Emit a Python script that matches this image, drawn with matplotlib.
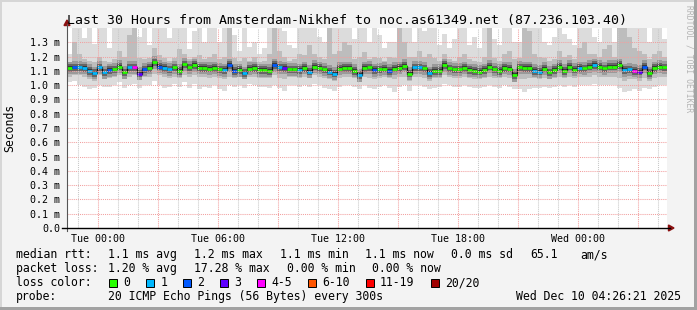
import matplotlib
matplotlib.use("Agg")
import matplotlib.pyplot as plt
from matplotlib.lines import Line2D
from matplotlib.patches import Rectangle, Polygon
from datetime import datetime, timedelta
import numpy as np

# smokeping style graph, 30 hours, 15 minute bins

start = datetime(2025, 12, 8, 22, 28)
step_hours = 0.25

median_ms = [1.12, 1.125, 1.125, 1.12, 1.10, 1.085, 1.125, 1.09, 1.105, 1.11,
             1.13, 1.09, 1.125, 1.125, 1.08, 1.11, 1.12, 1.16, 1.13, 1.12,
             1.11, 1.125, 1.10, 1.145, 1.125, 1.14, 1.12, 1.12, 1.115, 1.12,
             1.11, 1.105, 1.14, 1.10, 1.105, 1.085, 1.115, 1.12, 1.105, 1.105,
             1.10, 1.14, 1.125, 1.12, 1.11, 1.11, 1.105, 1.12, 1.095, 1.13,
             1.12, 1.11, 1.095, 1.08, 1.115, 1.12, 1.12, 1.10, 1.07, 1.12,
             1.125, 1.105, 1.11, 1.115, 1.10, 1.115, 1.12, 1.135, 1.08, 1.125,
             1.125, 1.118, 1.085, 1.10, 1.10, 1.14, 1.118, 1.11, 1.11, 1.12,
             1.105, 1.10, 1.095, 1.105, 1.13, 1.11, 1.10, 1.12, 1.115, 1.07,
             1.125, 1.12, 1.12, 1.10, 1.095, 1.115, 1.09, 1.105, 1.13, 1.10,
             1.13, 1.108, 1.12, 1.118, 1.13, 1.14, 1.13, 1.118, 1.13, 1.13,
             1.14, 1.105, 1.11, 1.10, 1.095, 1.13, 1.085, 1.12, 1.13, 1.125]

# index into loss_labels
loss_class = [0, 2, 1, 1, 1, 1, 1, 1, 2, 0,
              0, 0, 1, 4, 3, 2, 0, 0, 2, 1,
              1, 0, 0, 0, 0, 0, 0, 0, 0, 0,
              0, 1, 2, 2, 0, 1, 0, 0, 0, 0,
              0, 2, 1, 3, 0, 0, 1, 0, 1, 0,
              0, 0, 1, 1, 0, 0, 0, 0, 1, 0,
              0, 2, 0, 0, 2, 0, 0, 0, 0, 1,
              1, 0, 1, 0, 0, 0, 0, 0, 0, 0,
              0, 0, 0, 0, 0, 0, 0, 0, 0, 0,
              0, 0, 0, 1, 1, 0, 0, 0, 0, 0,
              0, 0, 1, 0, 0, 1, 0, 0, 0, 0,
              0, 1, 1, 4, 3, 2, 0, 0, 0, 0]

smoke_max = [1.22, 1.40, 1.40, 1.33, 1.40, 1.29, 1.40, 1.40, 1.26, 1.40,
             1.40, 1.40, 1.40, 1.40, 1.34, 1.40, 1.28, 1.40, 1.40, 1.40,
             1.33, 1.40, 1.40, 1.40, 1.25, 1.38, 1.40, 1.30, 1.40, 1.40,
             1.30, 1.40, 1.40, 1.35, 1.24, 1.40, 1.27, 1.30, 1.22, 1.26,
             1.40, 1.40, 1.40, 1.38, 1.28, 1.26, 1.40, 1.40, 1.40, 1.40,
             1.34, 1.30, 1.40, 1.40, 1.40, 1.40, 1.40, 1.32, 1.40, 1.40,
             1.30, 1.40, 1.35, 1.26, 1.30, 1.30, 1.40, 1.40, 1.40, 1.30,
             1.40, 1.38, 1.40, 1.40, 1.28, 1.36, 1.26, 1.32, 1.40, 1.40,
             1.28, 1.34, 1.26, 1.40, 1.40, 1.32, 1.28, 1.40, 1.40, 1.30,
             1.30, 1.40, 1.40, 1.40, 1.40, 1.30, 1.28, 1.34, 1.40, 1.36,
             1.32, 1.28, 1.40, 1.40, 1.40, 1.34, 1.30, 1.40, 1.40, 1.30,
             1.40, 1.40, 1.40, 1.40, 1.40, 1.40, 1.30, 1.40, 1.40, 1.32]

smoke_p90 = [1.16, 1.30, 1.22, 1.18, 1.17, 1.16, 1.20, 1.17, 1.16, 1.18,
             1.24, 1.20, 1.35, 1.40, 1.19, 1.18, 1.19, 1.26, 1.21, 1.19,
             1.17, 1.19, 1.25, 1.22, 1.18, 1.20, 1.21, 1.18, 1.20, 1.22,
             1.18, 1.20, 1.40, 1.19, 1.17, 1.19, 1.17, 1.20, 1.16, 1.17,
             1.22, 1.40, 1.24, 1.20, 1.17, 1.18, 1.22, 1.21, 1.28, 1.22,
             1.20, 1.18, 1.40, 1.22, 1.24, 1.30, 1.28, 1.18, 1.20, 1.23,
             1.18, 1.20, 1.19, 1.17, 1.20, 1.19, 1.40, 1.30, 1.20, 1.20,
             1.24, 1.20, 1.22, 1.19, 1.17, 1.22, 1.18, 1.17, 1.20, 1.22,
             1.18, 1.17, 1.16, 1.20, 1.40, 1.19, 1.17, 1.22, 1.24, 1.18,
             1.19, 1.40, 1.38, 1.22, 1.20, 1.19, 1.17, 1.18, 1.24, 1.20,
             1.21, 1.18, 1.26, 1.30, 1.22, 1.22, 1.20, 1.25, 1.28, 1.20,
             1.40, 1.40, 1.34, 1.26, 1.24, 1.22, 1.18, 1.22, 1.24, 1.20]

smoke_p10 = [1.06, 1.07, 1.07, 1.06, 1.04, 1.03, 1.07, 1.04, 1.05, 1.06,
             1.07, 1.05, 1.06, 1.07, 1.04, 1.06, 1.06, 1.08, 1.07, 1.06,
             1.05, 1.06, 1.05, 1.07, 1.06, 1.07, 1.06, 1.06, 1.05, 1.06,
             1.05, 1.04, 1.06, 1.05, 1.06, 1.04, 1.06, 1.06, 1.05, 1.05,
             1.05, 1.07, 1.05, 1.04, 1.06, 1.06, 1.05, 1.06, 1.05, 1.07,
             1.06, 1.05, 1.04, 1.03, 1.05, 1.06, 1.06, 1.05, 1.03, 1.06,
             1.05, 1.04, 1.05, 1.06, 1.05, 1.04, 1.06, 1.06, 1.03, 1.06,
             1.06, 1.05, 1.03, 1.05, 1.05, 1.07, 1.06, 1.05, 1.05, 1.06,
             1.05, 1.04, 1.04, 1.05, 1.06, 1.05, 1.05, 1.06, 1.05, 1.02,
             1.04, 1.04, 1.05, 1.05, 1.04, 1.05, 1.04, 1.05, 1.06, 1.05,
             1.06, 1.05, 1.06, 1.06, 1.06, 1.07, 1.06, 1.06, 1.06, 1.06,
             1.05, 1.03, 1.04, 1.04, 1.03, 1.05, 1.03, 1.05, 1.06, 1.06]

smoke_min = [1.02, 1.03, 1.00, 0.99, 0.97, 0.98, 1.00, 0.99, 0.99, 1.00,
             1.02, 0.98, 1.00, 1.01, 0.98, 1.00, 1.00, 1.03, 1.00, 0.98,
             0.99, 1.01, 0.99, 1.02, 0.98, 1.01, 0.97, 0.99, 0.98, 1.00,
             0.97, 0.96, 1.00, 0.99, 1.00, 0.98, 1.01, 1.00, 0.99, 0.99,
             0.98, 1.00, 0.98, 0.96, 1.00, 1.00, 0.99, 1.00, 0.99, 1.01,
             1.00, 0.98, 0.97, 0.96, 0.99, 1.00, 1.00, 0.99, 0.97, 1.00,
             0.98, 0.97, 0.99, 1.00, 0.98, 0.95, 0.99, 1.00, 0.96, 1.00,
             1.00, 0.99, 0.97, 0.98, 0.99, 1.01, 1.00, 0.99, 0.99, 1.00,
             0.99, 0.98, 0.98, 0.99, 1.00, 0.99, 0.98, 1.00, 0.99, 0.97,
             0.97, 0.95, 0.97, 0.98, 0.98, 0.99, 0.98, 0.99, 1.00, 0.99,
             1.00, 0.99, 1.00, 1.00, 1.00, 1.01, 1.00, 1.00, 1.00, 1.00,
             0.98, 0.95, 0.96, 0.97, 0.96, 0.98, 0.97, 0.99, 1.00, 1.00]

loss_labels = ['0', '1', '2', '3', '4-5', '6-10', '11-19', '20/20']
loss_colors = ['#26ff00', '#00b8ff', '#0059ff', '#5e00ff', '#ff00ff',
               '#ff5500', '#ff0000', '#a00000']

tick_times = [datetime(2025, 12, 9, 0), datetime(2025, 12, 9, 6),
              datetime(2025, 12, 9, 12), datetime(2025, 12, 9, 18),
              datetime(2025, 12, 10, 0)]
tick_labels = ['Tue 00:00', 'Tue 06:00', 'Tue 12:00', 'Tue 18:00', 'Wed 00:00']

y_ticks = [0.0, 0.1, 0.2, 0.3, 0.4, 0.5, 0.6, 0.7, 0.8, 0.9, 1.0, 1.1, 1.2, 1.3]
y_tick_labels = ['0.0', '0.1 m', '0.2 m', '0.3 m', '0.4 m', '0.5 m', '0.6 m',
                 '0.7 m', '0.8 m', '0.9 m', '1.0 m', '1.1 m', '1.2 m', '1.3 m']

title = "Last 30 Hours from Amsterdam-Nikhef to noc.as61349.net (87.236.103.40)"

# ------------------------------------------------------------------
W, H = 697, 310
plt.rcParams['font.family'] = 'DejaVu Sans Mono'


def fx(x):
    return x / W


def fy(y):
    return 1 - y / H


def hrs(t):
    return (t - start).total_seconds() / 3600.0


fig = plt.figure(figsize=(W / 100, H / 100), dpi=100, facecolor='#f3f3f3')
ax = fig.add_axes([fx(67), fy(228), 600 / W, 200 / H])
ax.set_facecolor('white')
ax.set_xlim(0, 30)
ax.set_ylim(0, 1.4)
for s in ax.spines.values():
    s.set_visible(False)

n = len(median_ms)
x = np.arange(n + 1) * step_hours
def edge(v):
    return np.array(list(v) + [v[-1]])

med = edge(median_ms)

# smoke
ax.fill_between(x, edge(smoke_min), edge(smoke_max), step='post',
                color='#dcdcdc', lw=0, zorder=1)
ax.fill_between(x, edge(smoke_p10), edge(smoke_p90), step='post',
                color='#bdbdbd', lw=0, zorder=2)
# darker core around the median (shading width is purely visual)
for half, col in [(0.045, '#9a9a9a'), (0.026, '#666666'), (0.012, '#3a3a3a')]:
    ax.fill_between(x, med - half, med + half, step='post', color=col,
                    lw=0, zorder=3)
ax.plot(x, med, drawstyle='steps-post', color='#111111', lw=0.9, zorder=4)

# median coloured by loss
ax.hlines(median_ms, x[:-1], x[1:], colors=[loss_colors[c] for c in loss_class],
          lw=2.0, zorder=5)

# grid on top of the data
for v in y_ticks[1:]:
    ax.axhline(v, color='#f2a0a0', lw=0.75, ls=(0, (1, 1)), zorder=6)
t = datetime(2025, 12, 8, 23)
while hrs(t) < 30:
    col = '#f2a0a0' if t.hour % 3 == 0 else '#c8c8c8'
    ax.axvline(hrs(t), color=col, lw=0.75, ls=(0, (1, 1)), zorder=6)
    t += timedelta(hours=1)

ax.set_xticks([hrs(t) for t in tick_times], tick_labels)
ax.set_yticks(y_ticks, y_tick_labels)
ax.tick_params(axis='x', length=0, pad=4.5, labelsize=7.2)
ax.tick_params(axis='y', length=0, pad=5, labelsize=7.2)

# axes lines and arrows
fig.add_artist(Line2D([fx(67), fx(67)], [fy(231), fy(24)], color='#555555',
                      lw=0.8, transform=fig.transFigure))
fig.add_artist(Line2D([fx(62), fx(670)], [fy(228), fy(228)], color='#000000',
                      lw=1.0, transform=fig.transFigure))
fig.add_artist(Polygon([(fx(64), fy(25.5)), (fx(70), fy(25.5)), (fx(67), fy(20))],
                       closed=True, color='#8b1010', transform=fig.transFigure))
fig.add_artist(Polygon([(fx(668.5), fy(225)), (fx(668.5), fy(231)), (fx(674), fy(228))],
                       closed=True, color='#8b1010', transform=fig.transFigure))

# texts
fig.text(fx(347), fy(24), title, ha='center', va='baseline', fontsize=9.5)
fig.text(fx(10), fy(128), 'Seconds', rotation=90, ha='center', va='center',
         fontsize=8.3)
fig.text(fx(688.5), fy(5), 'RRDTOOL / TOBI OETIKER', rotation=270, ha='center',
         va='top', fontsize=5.8, color='#b4b4b4')

fs = 8.3
rows = [258, 272, 286, 300]
row1 = [(16, 'median rtt:'), (108, '1.1 ms avg'), (194, '1.2 ms max'),
        (280, '1.1 ms min'), (365, '1.1 ms now'), (451, '0.0 ms sd'),
        (530, '65.1'), (580, 'am/s')]
row2 = [(16, 'packet loss:'), (108, '1.20 % avg'), (194, '17.28 % max'),
        (287, '0.00 % min'), (372, '0.00 % now')]
for xp, s in row1:
    fig.text(fx(xp), fy(rows[0]), s, va='baseline', fontsize=fs)
for xp, s in row2:
    fig.text(fx(xp), fy(rows[1]), s, va='baseline', fontsize=fs)

fig.text(fx(16), fy(rows[2]), 'loss color:', va='baseline', fontsize=fs)
sq_x = [108.5, 146, 183, 220, 257, 308, 365.5, 430.5]
for xp, lab, col in zip(sq_x, loss_labels, loss_colors):
    fig.add_artist(Rectangle((fx(xp), fy(286.5)), 8 / W, 8 / H, facecolor=col,
                             edgecolor='black', lw=0.7, transform=fig.transFigure))
    fig.text(fx(xp + 14.5), fy(rows[2]), lab, va='baseline', fontsize=fs)

fig.text(fx(16), fy(rows[3]), 'probe:', va='baseline', fontsize=fs)
fig.text(fx(108), fy(rows[3]), '20 ICMP Echo Pings (56 Bytes) every 300s',
         va='baseline', fontsize=fs)
fig.text(fx(681), fy(rows[3]), 'Wed Dec 10 04:26:21 2025', ha='right',
         va='baseline', fontsize=fs)

# 3d frame
fig.add_artist(Rectangle((0, fy(2)), 1, 2 / H, color='#d6d6d6', lw=0,
                         transform=fig.transFigure))
fig.add_artist(Rectangle((0, 0), 2 / W, 1, color='#d6d6d6', lw=0,
                         transform=fig.transFigure))
fig.add_artist(Rectangle((fx(694), 0), 3 / W, 1, color='#a2a2a2', lw=0,
                         transform=fig.transFigure))
fig.add_artist(Rectangle((0, 0), 1, 3 / H, color='#a2a2a2', lw=0,
                         transform=fig.transFigure))

fig.savefig('out.png', dpi=100, facecolor=fig.get_facecolor())
